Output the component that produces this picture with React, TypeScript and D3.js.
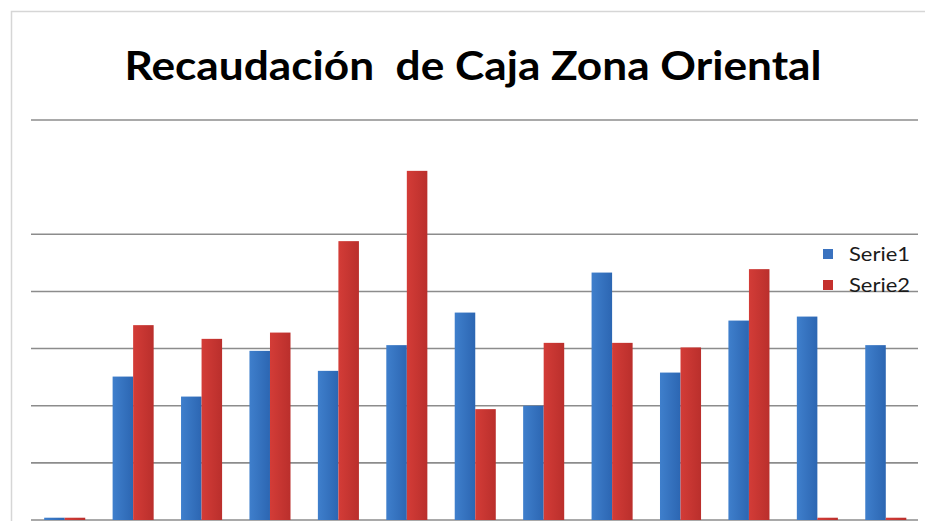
import React from "react";
import * as d3 from "d3";

const categories = ["1", "2", "3", "4", "5", "6", "7", "8", "9", "10", "11", "12", "13"];
const seriesNames = ["Serie1", "Serie2"];
const serie1 = [0.04, 2.51, 2.16, 2.96, 2.61, 3.06, 3.63, 2.0, 4.33, 2.58, 3.49, 3.56, 3.06];
const serie2 = [0.04, 3.41, 3.17, 3.28, 4.88, 6.11, 1.94, 3.1, 3.1, 3.02, 4.39, 0.04, 0.04];
const gridTicks = [0, 1, 2, 3, 4, 5, 7];
const title = "Recaudación\u00a0 de Caja Zona Oriental";

const W = 925;
const H = 521;

export default function App() {
  const x0 = d3.scaleBand<string>().domain(categories).range([30.5, 920]).paddingInner(0.4).paddingOuter(0.2);
  const x1 = d3.scaleBand<string>().domain(seriesNames).range([0, x0.bandwidth()]).padding(0);
  const y = d3.scaleLinear().domain([0, 7]).range([520, 120]);
  const values = [serie1, serie2];
  const fills = ["url(#gBlue)", "url(#gRed)"];
  const legendColors = ["#3a72bf", "#c4302d"];

  return (
    <svg width={W} height={H} style={{ position: "absolute", left: 0, top: 0, background: "#fff" }} fontFamily="Lato, 'Open Sans', sans-serif">
      <defs>
        <linearGradient id="gBlue" x1="0" x2="1" y1="0" y2="0">
          <stop offset="0" stopColor="#3f7fcc" />
          <stop offset="1" stopColor="#2c66b2" />
        </linearGradient>
        <linearGradient id="gRed" x1="0" x2="1" y1="0" y2="0">
          <stop offset="0" stopColor="#d33c37" />
          <stop offset="1" stopColor="#ba2f2c" />
        </linearGradient>
      </defs>
      <rect x={0} y={0} width={W} height={H} fill="#fff" />
      <rect x={11.5} y={11.5} width={960} height={560} fill="#fff" stroke="#d6d6d6" strokeWidth={1.5} />
      <text x={473} y={80} textAnchor="middle" fontSize={40} fontWeight="bold" fill="#000" textLength={697} lengthAdjust="spacingAndGlyphs">
        {title}
      </text>
      {gridTicks.map((t) => (
        <line key={t} x1={31} x2={918} y1={y(t)} y2={y(t)} stroke="#8c8c8c" strokeWidth={1.6} />
      ))}
      {categories.map((c, i) => (
        <g key={c} transform={`translate(${x0(c)},0)`}>
          {seriesNames.map((s, j) => (
            <rect key={s} x={x1(s)} y={y(values[j][i])} width={x1.bandwidth()} height={y(0) - y(values[j][i])} fill={fills[j]} />
          ))}
        </g>
      ))}
      {seriesNames.map((s, j) => (
        <g key={s} transform={`translate(823,${249 + j * 31})`}>
          <rect x={0} y={0} width={10} height={10} fill={legendColors[j]} />
          <text x={26} y={12} fontSize={19} fill="#1a1a1a" textLength={61} lengthAdjust="spacingAndGlyphs">{s}</text>
        </g>
      ))}
    </svg>
  );
}
